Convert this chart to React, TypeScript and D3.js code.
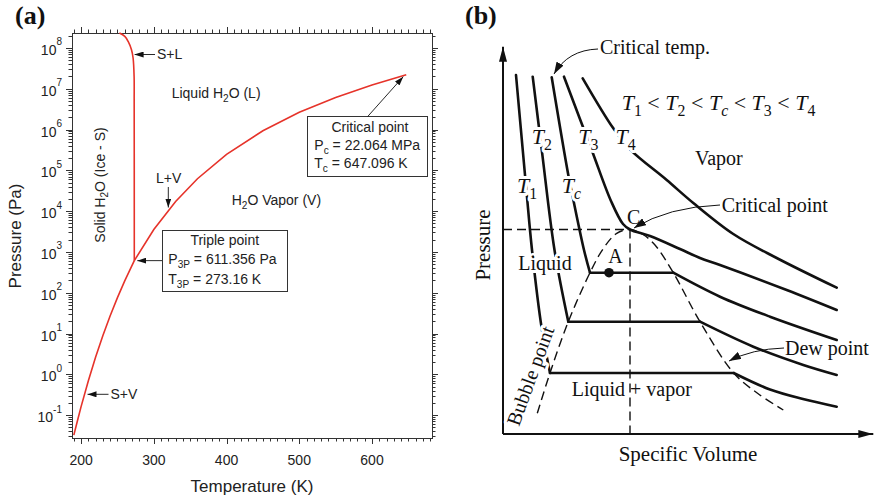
import React, { useEffect, useRef } from 'react';
import * as d3 from 'd3';

// ---------- (a) phase diagram of water ----------
const sublimationT = [190, 195, 200, 210, 220, 230, 240, 250, 260, 273.16];
const sublimationP = [0.0323, 0.073, 0.162, 0.7, 2.65, 8.97, 27.3, 76.0, 195.8, 611.657];
const meltingT = [273.16, 273.1, 273.0, 272.9, 271.5, 269.3, 264.7, 260.1, 252.7];
const meltingP = [611.657, 1e5, 5e6, 2.0e7, 5.65e7, 9.0e7, 1.44e8, 1.92e8, 2.32e8];
const vaporT = [273.16, 300, 330, 360, 400, 450, 500, 550, 600, 647.096];
const vaporP = [611.657, 3537, 17213, 62194, 245770, 932200, 2.6392e6, 6.1172e6, 1.2345e7, 2.2064e7];
const tempTicks = [200, 300, 400, 500, 600];
const pressureExps = [-1, 0, 1, 2, 3, 4, 5, 6, 7, 8];
const triplePoint = [273.16, 611.657];
const criticalPoint = [647.096, 2.2064e7];

// ---------- (b) schematic P-v diagram (arbitrary units) ----------
const t1LiquidV = [13, 22, 24, 29, 38.7, 47];
const t1LiquidP = [359, 259, 237, 184, 105.7, 61];
const t1VaporV = [230.7, 267, 300, 333.7];
const t1VaporP = [61, 44.5, 35, 27.3];
const t2LiquidV = [29.7, 38.7, 51.5, 65.3];
const t2LiquidP = [357.3, 284.7, 184, 112.3];
const t2VaporV = [197, 250.3, 300.3, 333.7];
const t2VaporP = [112.3, 87.3, 69, 59];
const tcLiquidV = [48.7, 65.3, 69.7, 81, 87];
const tcLiquidP = [356.7, 259, 237.3, 184, 161.3];
const tcVaporV = [170.3, 217, 267, 333.7];
const tcVaporP = [161.3, 137.3, 117.3, 94];
const t3V = [61, 88.7, 108, 120, 127, 147, 177, 197, 217, 283.7, 333.7];
const t3P = [357.3, 284, 233, 210, 204.5, 198, 185, 176, 169, 144, 124];
const t4V = [79.7, 110.3, 127, 163.7, 190.3, 230.3, 273.7, 333.7];
const t4P = [355.7, 305.7, 284.7, 254, 231, 200, 176, 146.3];
const domeV = [34.3, 47, 65.3, 87, 100, 113.7, 127, 140, 152, 170.3, 197, 230.7, 255.5, 280.3];
const domeP = [20.7, 61, 112.3, 161.3, 185, 200.7, 204.5, 199.5, 189, 161.3, 112.3, 61, 40, 24];
const pointC = [127, 204.5];
const pointA = [106, 161.3];

const SANS = 'Liberation Sans, Arial, sans-serif';
const SERIF = 'Liberation Serif, Times New Roman, serif';
const RED = '#e6332a';

type Part = [string, string?];

// append text pieces with sub/superscripts as tspans
function rich(text: any, parts: Part[], size: number) {
  let offset = 0;
  parts.forEach(([s, kind = 'n']) => {
    const sub = kind === 'sub' || kind === 'isub';
    const sup = kind === 'sup';
    const target = sub ? size * 0.28 : sup ? -size * 0.7 : 0;
    const ts = text.append('tspan').attr('dy', target - offset).text(s);
    if (sub || sup) ts.attr('font-size', size * 0.72);
    if (kind === 'i' || kind === 'isub') ts.attr('font-style', 'italic');
    offset = target;
  });
}

const App: React.FC = () => {
  const svgRef = useRef<SVGSVGElement>(null);

  useEffect(() => {
    if (!svgRef.current) return;
    const svg = d3.select(svgRef.current);
    svg.selectAll('*').remove();

    const defs = svg.append('defs');
    const marker = (id: string, w: number, h: number) =>
      defs.append('marker')
        .attr('id', id)
        .attr('viewBox', `0 0 ${w} ${h}`)
        .attr('refX', w)
        .attr('refY', h / 2)
        .attr('markerWidth', w)
        .attr('markerHeight', h)
        .attr('markerUnits', 'userSpaceOnUse')
        .attr('orient', 'auto')
        .append('path')
        .attr('d', `M0,0L${w},${h / 2}L0,${h}Z`)
        .attr('fill', '#111');
    marker('arrA', 9, 6);
    marker('arrB', 12, 8);
    marker('arrAxis', 15, 8);

    // ================= panel (a) =================
    const x = d3.scaleLinear().domain([187.5, 682.5]).range([72, 432]);
    const y = d3.scaleLog().domain([Math.pow(10, -1.56), Math.pow(10, 8.365)]).range([438, 33]);
    const [x0, x1] = x.range();
    const [y0, y1] = y.range();

    const ga = svg.append('g').attr('font-family', SANS).attr('fill', '#222');

    // ticks on all four sides, pointing outwards
    const tickG = ga.append('g').attr('stroke', '#333').attr('stroke-width', 1);
    const minorT = d3.range(190, 683, 10).filter(t => t % 100 !== 0);
    const xTicks = [...tempTicks.map(t => ({ v: t, len: 6 })), ...minorT.map(t => ({ v: t, len: 3.5 }))];
    xTicks.forEach(t => {
      const px = Math.round(x(t.v)) + 0.5;
      tickG.append('line').attr('x1', px).attr('x2', px).attr('y1', y0).attr('y2', y0 + t.len);
      tickG.append('line').attr('x1', px).attr('x2', px).attr('y1', y1).attr('y2', y1 - t.len);
    });
    const [pMin, pMax] = y.domain();
    const yTicks: { v: number; len: number }[] = [];
    d3.range(-2, 9).forEach(e => {
      d3.range(1, 10).forEach(m => {
        const v = m * Math.pow(10, e);
        if (v >= pMin && v <= pMax) yTicks.push({ v, len: m === 1 ? 6 : 3.5 });
      });
    });
    yTicks.forEach(t => {
      const py = Math.round(y(t.v)) + 0.5;
      tickG.append('line').attr('x1', x0).attr('x2', x0 - t.len).attr('y1', py).attr('y2', py);
      tickG.append('line').attr('x1', x1).attr('x2', x1 + t.len).attr('y1', py).attr('y2', py);
    });
    ga.append('rect')
      .attr('x', x0 + 0.5).attr('y', y1 + 0.5)
      .attr('width', x1 - x0).attr('height', y0 - y1)
      .attr('fill', 'none').attr('stroke', '#333');

    // tick labels
    tempTicks.forEach(t => {
      ga.append('text').attr('x', x(t)).attr('y', 465).attr('text-anchor', 'middle')
        .attr('font-size', 14).text(t);
    });
    pressureExps.forEach(e => {
      const t = ga.append('text').attr('x', 62).attr('y', y(Math.pow(10, e)) + 7)
        .attr('text-anchor', 'end').attr('font-size', 14);
      t.append('tspan').text('10');
      t.append('tspan').attr('dy', -9.5).attr('font-size', 10).text(String(e));
    });

    ga.append('text').attr('x', (x0 + x1) / 2).attr('y', 492).attr('text-anchor', 'middle')
      .attr('font-size', 17).text('Temperature (K)');
    ga.append('text').attr('transform', 'translate(20.5,236) rotate(-90)').attr('text-anchor', 'middle')
      .attr('font-size', 17).text('Pressure (Pa)');

    // phase boundaries
    const lineA = d3.line<[number, number]>().x(d => x(d[0])).y(d => y(d[1]));
    const curveG = ga.append('g').attr('fill', 'none').attr('stroke', RED).attr('stroke-width', 1.6);
    curveG.append('path').attr('d', lineA(d3.zip(sublimationT, sublimationP) as [number, number][]));
    curveG.append('path').attr('d', lineA.curve(d3.curveCatmullRom)(d3.zip(meltingT, meltingP) as [number, number][]));
    curveG.append('path').attr('d', lineA.curve(d3.curveLinear)(d3.zip(vaporT, vaporP) as [number, number][]));

    // annotations
    const arrowA = (xa: number, ya: number, xb: number, yb: number) =>
      ga.append('line').attr('x1', xa).attr('y1', ya).attr('x2', xb).attr('y2', yb)
        .attr('stroke', '#111').attr('stroke-width', 0.9).attr('marker-end', 'url(#arrA)');
    const label = (px: number, py: number, parts: Part[], anchor = 'start') => {
      const t = ga.append('text').attr('x', px).attr('y', py).attr('font-size', 14)
        .attr('text-anchor', anchor).style('white-space', 'pre');
      rich(t, parts, 14);
      return t;
    };

    label(157, 59.3, [['S+L']]);
    arrowA(155, 54.5, x(272.2) + 1, 54.5);
    label(171.7, 98.3, [['Liquid H'], ['2', 'sub'], ['O (L)']]);
    const solid = ga.append('text').attr('transform', 'translate(104.5,185) rotate(-90)')
      .attr('text-anchor', 'middle').attr('font-size', 14).style('white-space', 'pre');
    rich(solid, [['Solid H'], ['2', 'sub'], ['O (Ice - S)']], 14);
    label(156, 183, [['L+V']]);
    arrowA(168.3, 187, 168.3, 207.5);
    label(231.7, 205, [['H'], ['2', 'sub'], ['O Vapor (V)']]);

    // critical point box
    ga.append('rect').attr('x', 307.5).attr('y', 116.5).attr('width', 120).attr('height', 60)
      .attr('fill', '#fff').attr('stroke', '#333');
    label(370, 131.7, [['Critical point']], 'middle');
    label(314.3, 150, [['P'], ['c', 'sub'], [' = 22.064 MPa']]);
    label(314.3, 168.3, [['T'], ['c', 'sub'], [' = 647.096 K']]);
    arrowA(367.7, 116.5, x(criticalPoint[0]) - 3, y(criticalPoint[1]) + 2);

    // triple point box
    ga.append('rect').attr('x', 162.5).attr('y', 230.5).attr('width', 125).attr('height', 61)
      .attr('fill', '#fff').attr('stroke', '#333');
    label(224.8, 245, [['Triple point']], 'middle');
    label(168.3, 264.3, [['P'], ['3P', 'sub'], [' = 611.356 Pa']]);
    label(168.3, 284.3, [['T'], ['3P', 'sub'], [' = 273.16 K']]);
    arrowA(162, y(triplePoint[1]), x(triplePoint[0]) + 3, y(triplePoint[1]));

    label(110.5, 399.3, [['S+V']]);
    arrowA(108.5, 394.3, 87.5, 394.3);

    svg.append('text').attr('x', 15).attr('y', 24).attr('font-family', SERIF)
      .attr('font-weight', 'bold').attr('font-size', 26).attr('fill', '#111').text('(a)');

    // ================= panel (b) =================
    const xb = d3.scaleLinear().domain([0, 370]).range([503, 873]);
    const yb = d3.scaleLinear().domain([0, 388]).range([434, 46]);
    const gb = svg.append('g').attr('font-family', SERIF).attr('fill', '#111');

    gb.append('line').attr('x1', xb(0)).attr('y1', yb(0)).attr('x2', xb(0)).attr('y2', yb(387.3))
      .attr('stroke', '#111').attr('stroke-width', 2).attr('marker-end', 'url(#arrAxis)');
    gb.append('line').attr('x1', xb(0)).attr('y1', yb(0)).attr('x2', xb(370.3)).attr('y2', yb(0))
      .attr('stroke', '#111').attr('stroke-width', 2).attr('marker-end', 'url(#arrAxis)');

    const pts = (v: number[], p: number[]) => d3.zip(v, p) as [number, number][];
    const smooth = d3.line<[number, number]>().x(d => xb(d[0])).y(d => yb(d[1])).curve(d3.curveCatmullRom);
    const straight = d3.line<[number, number]>().x(d => xb(d[0])).y(d => yb(d[1]));

    // dashed guides and the saturation dome
    const dashG = gb.append('g').attr('fill', 'none').attr('stroke', '#111')
      .attr('stroke-width', 1.4).attr('stroke-dasharray', '9,5');
    dashG.append('path').attr('d', straight([[0, pointC[1]], [pointC[0], pointC[1]]]));
    dashG.append('path').attr('d', straight([[pointC[0], pointC[1]], [pointC[0], 0]]));
    dashG.append('path').attr('d', smooth(pts(domeV, domeP)));

    // isotherms
    const isoG = gb.append('g').attr('fill', 'none').attr('stroke', '#111')
      .attr('stroke-width', 2.6).attr('stroke-linecap', 'round').attr('stroke-linejoin', 'round');
    const twoPhase: [number[], number[], number[], number[]][] = [
      [t1LiquidV, t1LiquidP, t1VaporV, t1VaporP],
      [t2LiquidV, t2LiquidP, t2VaporV, t2VaporP],
      [tcLiquidV, tcLiquidP, tcVaporV, tcVaporP],
    ];
    twoPhase.forEach(([lv, lp, vv, vp]) => {
      isoG.append('path').attr('d', smooth(pts(lv, lp)));
      isoG.append('path').attr('d', straight([[lv[lv.length - 1], lp[lp.length - 1]], [vv[0], vp[0]]]));
      isoG.append('path').attr('d', smooth(pts(vv, vp)));
    });
    isoG.append('path').attr('d', smooth(pts(t3V, t3P)));
    isoG.append('path').attr('d', smooth(pts(t4V, t4P)));

    gb.append('circle').attr('cx', xb(pointA[0])).attr('cy', yb(pointA[1])).attr('r', 4.8).attr('fill', '#111');

    // labels (white halo hides the curves behind them)
    const halo = (t: any) => t.attr('stroke', '#fff').attr('stroke-width', 6)
      .attr('stroke-linejoin', 'round').attr('paint-order', 'stroke');
    const textB = (px: number, py: number, parts: Part[], size = 20, withHalo = false) => {
      const t = gb.append('text').attr('x', px).attr('y', py).attr('font-size', size).style('white-space', 'pre');
      rich(t, parts, size);
      if (withHalo) halo(t);
      return t;
    };

    textB(517, 193, [['T', 'i'], ['1', 'sub']], 22, true);
    textB(531.7, 143.5, [['T', 'i'], ['2', 'sub']], 22, true);
    textB(561.7, 193, [['T', 'i'], ['c', 'isub']], 22, true);
    textB(578.3, 143.5, [['T', 'i'], ['3', 'sub']], 22, true);
    textB(615.5, 143.5, [['T', 'i'], ['4', 'sub']], 22, true);
    textB(621.7, 109.5, [
      ['T', 'i'], ['1', 'sub'], [' < '], ['T', 'i'], ['2', 'sub'], [' < '], ['T', 'i'], ['c', 'isub'],
      [' < '], ['T', 'i'], ['3', 'sub'], [' < '], ['T', 'i'], ['4', 'sub'],
    ], 22);

    textB(600, 54, [['Critical temp.']]);
    textB(695, 165, [['Vapor']]);
    textB(627, 223.5, [['C']], 20, true);
    textB(721.7, 212, [['Critical point']]);
    textB(518.3, 270, [['Liquid']], 20, true);
    textB(608.3, 263.3, [['A']], 20, true);
    textB(571.7, 396, [['Liquid + vapor']]);
    textB(785, 355, [['Dew point']]);
    halo(gb.append('text').attr('transform', 'translate(519,427) rotate(-70)').attr('font-size', 20).text('Bubble point'));

    const arrowB = (d: string) =>
      gb.append('path').attr('d', d).attr('fill', 'none').attr('stroke', '#111')
        .attr('stroke-width', 1).attr('marker-end', 'url(#arrB)');
    arrowB('M598,49 Q568,50 554,74');
    arrowB('M720,205 Q668,207 634,228');
    arrowB('M784,348 Q752,349 729,361');

    gb.append('text').attr('transform', 'translate(490,245) rotate(-90)').attr('text-anchor', 'middle')
      .attr('font-size', 21).text('Pressure');
    gb.append('text').attr('x', 688).attr('y', 461).attr('text-anchor', 'middle')
      .attr('font-size', 21).text('Specific Volume');

    svg.append('text').attr('x', 465).attr('y', 24).attr('font-family', SERIF)
      .attr('font-weight', 'bold').attr('font-size', 26).attr('fill', '#111').text('(b)');
  }, []);

  return (
    <svg
      ref={svgRef}
      width={876}
      height={500}
      style={{ position: 'absolute', left: 0, top: 0, background: '#fff' }}
    />
  );
};

export default App;
